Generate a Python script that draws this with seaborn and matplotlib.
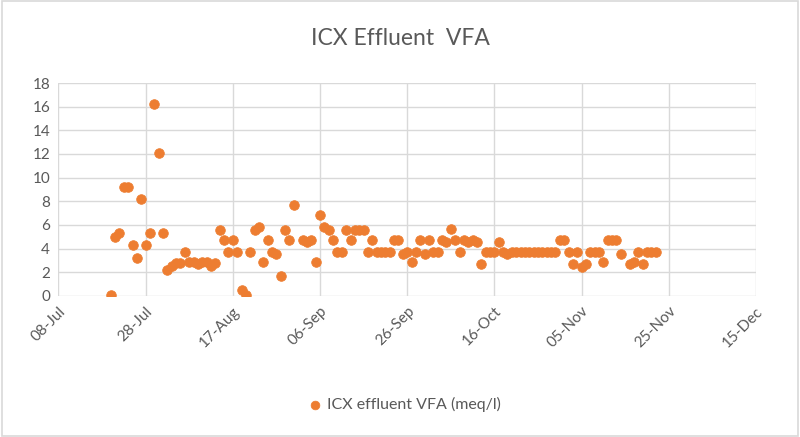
import pandas as pd
import seaborn as sns
import matplotlib.pyplot as plt
import matplotlib.dates as mdates

# sample dates (2021) and VFA readings
dates = [
    "07-20", "07-21", "07-22", "07-23", "07-24", "07-25", "07-26", "07-27", "07-28", "07-29",
    "07-30", "07-31", "08-01", "08-02", "08-03", "08-04", "08-05", "08-06", "08-07", "08-08",
    "08-09", "08-10", "08-11", "08-12", "08-13", "08-14", "08-15", "08-16", "08-17", "08-18",
    "08-19", "08-20", "08-21", "08-22", "08-23", "08-24", "08-25", "08-26", "08-27", "08-28",
    "08-29", "08-30", "08-31", "09-02", "09-03", "09-04", "09-05", "09-06", "09-07", "09-08",
    "09-09", "09-10", "09-11", "09-12", "09-13", "09-14", "09-15", "09-16", "09-17", "09-18",
    "09-19", "09-20", "09-21", "09-22", "09-23", "09-24", "09-25", "09-26", "09-27", "09-28",
    "09-29", "09-30", "10-01", "10-02", "10-03", "10-04", "10-05", "10-06", "10-07", "10-08",
    "10-09", "10-10", "10-11", "10-12", "10-13", "10-14", "10-15", "10-16", "10-17", "10-18",
    "10-19", "10-20", "10-21", "10-22", "10-23", "10-24", "10-25", "10-26", "10-27", "10-28",
    "10-29", "10-30", "10-31", "11-01", "11-02", "11-03", "11-04", "11-05", "11-06", "11-07",
    "11-08", "11-09", "11-10", "11-11", "11-12", "11-13", "11-14", "11-16", "11-17", "11-18",
    "11-19", "11-20", "11-21", "11-22",
]
vfa = [
    0.1, 4.95, 5.3, 9.2, 9.2, 4.3, 3.2, 8.2, 4.3, 5.3,
    16.2, 12.1, 5.3, 2.2, 2.5, 2.75, 2.75, 3.7, 2.9, 2.9,
    2.7, 2.9, 2.9, 2.55, 2.75, 5.6, 4.7, 3.7, 4.7, 3.7,
    0.5, 0.1, 3.7, 5.6, 5.85, 2.9, 4.7, 3.75, 3.55, 1.7,
    5.6, 4.7, 7.7, 4.7, 4.55, 4.7, 2.9, 6.8, 5.85, 5.6,
    4.7, 3.75, 3.75, 5.6, 4.7, 5.6, 5.6, 5.6, 3.75, 4.7,
    3.75, 3.75, 3.75, 3.75, 4.7, 4.7, 3.55, 3.75, 2.9, 3.75,
    4.7, 3.55, 4.7, 3.75, 3.75, 4.7, 4.55, 5.65, 4.7, 3.75,
    4.7, 4.55, 4.7, 4.55, 2.7, 3.75, 3.75, 3.75, 4.55, 3.75,
    3.55, 3.75, 3.75, 3.75, 3.75, 3.75, 3.75, 3.75, 3.75, 3.75,
    3.75, 3.75, 4.7, 4.7, 3.75, 2.7, 3.75, 2.45, 2.7, 3.75,
    3.75, 3.75, 2.9, 4.7, 4.7, 4.7, 3.55, 2.7, 2.9, 3.75,
    2.7, 3.75, 3.75, 3.75,
]

df = pd.DataFrame({"date": pd.to_datetime(["2021-" + d for d in dates]), "vfa": vfa})

sns.set_style("white")
plt.rcParams["font.family"] = ["Lato", "DejaVu Sans"]

grey = "#595959"
orange = "#ED7D31"

fig = plt.figure(figsize=(8, 4.37), dpi=100)
ax = fig.add_axes([0.073, 0.323, 0.872, 0.487])

sns.scatterplot(data=df, x="date", y="vfa", ax=ax, color=orange, edgecolor=orange,
                s=48, label="ICX effluent VFA (meq/l)", legend=False, zorder=3)

ax.set_xlim(pd.Timestamp("2021-07-08"), pd.Timestamp("2021-12-15"))
ax.set_ylim(0, 18)
ax.set_yticks(range(0, 19, 2))
ax.set_xticks(pd.date_range("2021-07-08", "2021-12-15", freq="20D"))
ax.xaxis.set_major_formatter(mdates.DateFormatter("%d-%b"))

ax.grid(True, color="#d9d9d9", linewidth=1)
for s in ax.spines.values():
    s.set_visible(False)
ax.tick_params(length=0, labelsize=11, labelcolor=grey, pad=6)
for lbl in ax.get_xticklabels():
    lbl.set_rotation(45)
    lbl.set_ha("right")
    lbl.set_rotation_mode("anchor")
ax.set_xlabel("")
ax.set_ylabel("")

fig.suptitle("ICX Effluent  VFA", y=0.935, fontsize=16.5, color=grey)

handles, labels = ax.get_legend_handles_labels()
fig.legend(handles, labels, loc="center", bbox_to_anchor=(0.5, 0.075), frameon=False,
           fontsize=11.5, labelcolor=grey, handletextpad=-0.3, markerscale=0.9)

fig.patches.append(plt.Rectangle((0.002, 0.003), 0.995, 0.994, transform=fig.transFigure,
                                 fill=False, edgecolor="#d9d9d9", linewidth=1.2))

fig.savefig("out.png", dpi=100)
